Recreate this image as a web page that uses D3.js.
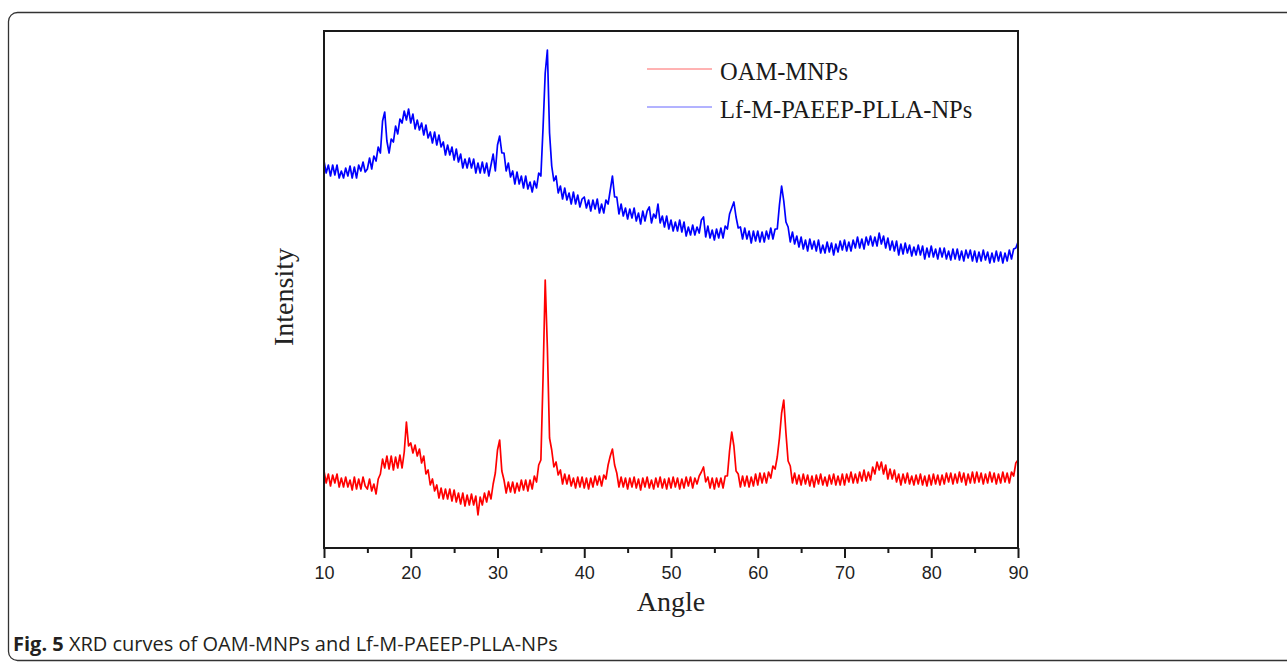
<!DOCTYPE html>
<html>
<head>
<meta charset="utf-8">
<script src="https://cdn.jsdelivr.net/npm/d3@7"></script>
<style>
  body { margin: 0; background: #fff; }
  svg { display: block; }
</style>
</head>
<body>
<svg id="drawing_region"></svg>
<script>
const angleStart = 10;
const angleStep = 0.25;

const blueValues = [
    387,375,383,372,383,373,383,370,377,370,380,372,382,370,381,370,383,377,386,376,
    379,390,379,392,387,401,395,427,436,407,395,409,406,422,414,429,425,437,428,439,
    425,434,419,428,418,425,413,423,410,416,405,416,403,413,401,406,393,403,393,401,
    388,399,386,394,380,389,380,390,380,389,375,385,375,386,375,385,372,383,394,377,
    403,412,395,395,377,385,371,377,364,376,364,372,360,372,359,366,356,367,360,375,
    372,420,475,498,415,382,367,372,355,362,349,360,348,355,344,356,344,353,341,349,
    351,340,348,337,348,339,349,335,344,335,348,344,358,372,351,351,334,344,332,340,
    329,339,330,340,327,335,324,337,327,337,341,325,334,330,344,325,332,321,332,319,
    328,317,326,317,328,316,326,312,321,313,323,313,321,315,328,331,311,322,310,318,
    308,319,310,320,310,322,319,334,340,346,331,320,321,309,320,309,317,305,317,307,
    317,306,316,306,317,309,320,309,319,319,343,362,347,326,321,306,316,304,312,301,
    311,299,308,297,309,299,307,297,308,295,303,295,306,296,305,293,304,296,307,298,
    308,297,306,297,308,300,311,300,309,299,311,303,312,302,311,302,315,304,312,300,
    310,298,307,297,307,293,304,294,305,295,303,292,301,293,303,293,302,289,300,291,
    302,291,299,289,300,291,300,289,297,288,299,289,299,288,297,287,298,290,298,287,
    297,286,296,287,298,288,296,285,295,286,297,287,296,285,295,287,298,289,299,300,
    306
];

const redValues = [
    77,65,74,62,73,65,74,61,70,61,71,61,68,58,71,59,69,59,71,62,
    59,69,57,64,54,69,74,89,80,92,79,92,78,91,80,93,80,96,126,102,
    105,95,103,92,99,85,92,74,78,63,69,57,63,50,60,49,59,49,59,47,
    58,46,55,44,55,42,53,43,54,43,52,33,51,43,55,46,57,49,64,75,
    98,108,77,68,55,66,56,66,55,65,57,68,58,68,57,68,59,72,66,83,
    88,170,268,200,110,98,81,86,73,78,64,74,64,73,62,70,60,71,61,71,
    60,70,59,70,61,72,63,72,62,73,69,83,92,99,83,75,61,71,61,70,
    59,70,61,71,60,69,58,70,61,71,60,68,59,70,61,71,60,69,59,70,
    60,71,61,70,59,69,60,71,62,71,60,70,64,72,76,81,66,71,60,70,
    59,70,61,70,60,72,72,97,116,102,77,74,61,72,62,72,61,71,62,74,
    63,75,65,75,65,76,70,82,79,91,110,135,148,115,87,82,65,75,64,73,
    63,74,64,73,62,72,61,73,64,74,63,71,62,73,64,74,63,72,63,74,
    63,74,66,76,65,74,65,76,67,78,67,76,68,81,74,86,78,86,74,83,
    69,79,69,78,66,74,63,74,65,75,64,72,63,73,64,74,63,72,62,73,
    63,74,64,73,63,73,64,75,66,75,64,74,65,76,66,75,63,74,65,76,
    65,76,66,75,64,74,65,76,66,75,64,74,65,76,66,75,65,76,72,85,
    88
];

const seriesNames = ['OAM-MNPs', 'Lf-M-PAEEP-PLLA-NPs'];
const seriesColors = ['#ff0000', '#0000ff'];
const majorTicks = [10, 20, 30, 40, 50, 60, 70, 80, 90];
const minorTicks = [15, 25, 35, 45, 55, 65, 75, 85];

const config = {
    width: 1287,
    height: 662,
    margin: {top: 31, right: 269, bottom: 114, left: 324}
};

const series = [redValues, blueValues].map((vals, k) => ({
    name: seriesNames[k],
    color: seriesColors[k],
    points: vals.map((v, i) => ({x: angleStart + i * angleStep, y: v}))
}));

const svg = d3.select('#drawing_region')
    .attr('width', config.width)
    .attr('height', config.height);

const inner_width = config.width - config.margin.left - config.margin.right;
const inner_height = config.height - config.margin.top - config.margin.bottom;

// outer figure panel
svg.append('rect')
    .attr('x', 8.5).attr('y', 12.5)
    .attr('width', 1300).attr('height', 648)
    .attr('rx', 9)
    .attr('fill', 'none')
    .attr('stroke', '#333')
    .attr('stroke-width', 1.3);

const chart = svg.append('g')
    .attr('transform', `translate(${config.margin.left}, ${config.margin.top})`);

const xscale = d3.scaleLinear().domain([10, 90]).range([0, inner_width]);
const yscale = d3.scaleLinear().domain([0, 517]).range([inner_height, 0]);

chart.append('clipPath').attr('id', 'plot-clip')
    .append('rect').attr('width', inner_width).attr('height', inner_height);

const line = d3.line()
    .x(d => xscale(d.x))
    .y(d => yscale(d.y));

chart.append('g')
    .attr('clip-path', 'url(#plot-clip)')
    .selectAll('path')
    .data(series)
    .join('path')
    .attr('d', d => line(d.points))
    .attr('fill', 'none')
    .attr('stroke', d => d.color)
    .attr('stroke-width', 1.7)
    .attr('stroke-linejoin', 'round');

// frame
chart.append('rect')
    .attr('width', inner_width).attr('height', inner_height)
    .attr('fill', 'none')
    .attr('stroke', '#1a1a1a')
    .attr('stroke-width', 2);

// x axis
const xaxis = d3.axisBottom(xscale)
    .tickValues(majorTicks)
    .tickSize(10)
    .tickPadding(8)
    .tickFormat(d3.format('d'));

const xaxis_group = chart.append('g')
    .attr('transform', `translate(0, ${inner_height})`)
    .call(xaxis);
xaxis_group.select('.domain').remove();
xaxis_group.selectAll('line').attr('stroke', '#1a1a1a').attr('stroke-width', 2);
xaxis_group.selectAll('text')
    .attr('fill', '#222')
    .style('font-family', '"Liberation Sans", Arial, sans-serif')
    .style('font-size', '18px');

const minor_group = chart.append('g')
    .attr('transform', `translate(0, ${inner_height})`)
    .call(d3.axisBottom(xscale).tickValues(minorTicks).tickSize(5).tickFormat(''));
minor_group.select('.domain').remove();
minor_group.selectAll('line').attr('stroke', '#1a1a1a').attr('stroke-width', 2);

// axis labels
svg.append('text')
    .attr('text-anchor', 'middle')
    .attr('x', config.margin.left + inner_width / 2)
    .attr('y', 611)
    .style('font-family', '"Liberation Serif", "Times New Roman", serif')
    .style('font-size', '28px')
    .attr('fill', '#222')
    .text('Angle');

svg.append('text')
    .attr('text-anchor', 'middle')
    .attr('transform', 'translate(293, 297) rotate(-90)')
    .style('font-family', '"Liberation Serif", "Times New Roman", serif')
    .style('font-size', '28px')
    .attr('fill', '#222')
    .text('Intensity');

// legend
const legend = svg.append('g')
    .selectAll('g')
    .data(series)
    .join('g')
    .attr('transform', (d, i) => `translate(647, ${69 + i * 38})`);

legend.append('line')
    .attr('x1', 0).attr('x2', 65)
    .attr('stroke', d => d.color)
    .attr('stroke-opacity', 0.6)
    .attr('stroke-width', 1);

legend.append('text')
    .attr('x', 73)
    .attr('y', 11)
    .style('font-family', '"Liberation Serif", "Times New Roman", serif')
    .style('font-size', '24.5px')
    .attr('fill', '#1a1a1a')
    .text(d => d.name);

// caption
const caption = svg.append('text')
    .attr('x', 13)
    .attr('y', 651)
    .style('font-family', '"Open Sans", sans-serif')
    .style('font-size', '20px')
    .attr('fill', '#231f20');
caption.append('tspan').style('font-weight', 'bold').text('Fig. 5');
caption.append('tspan').text(' XRD curves of OAM-MNPs and Lf-M-PAEEP-PLLA-NPs');
</script>
</body>
</html>
